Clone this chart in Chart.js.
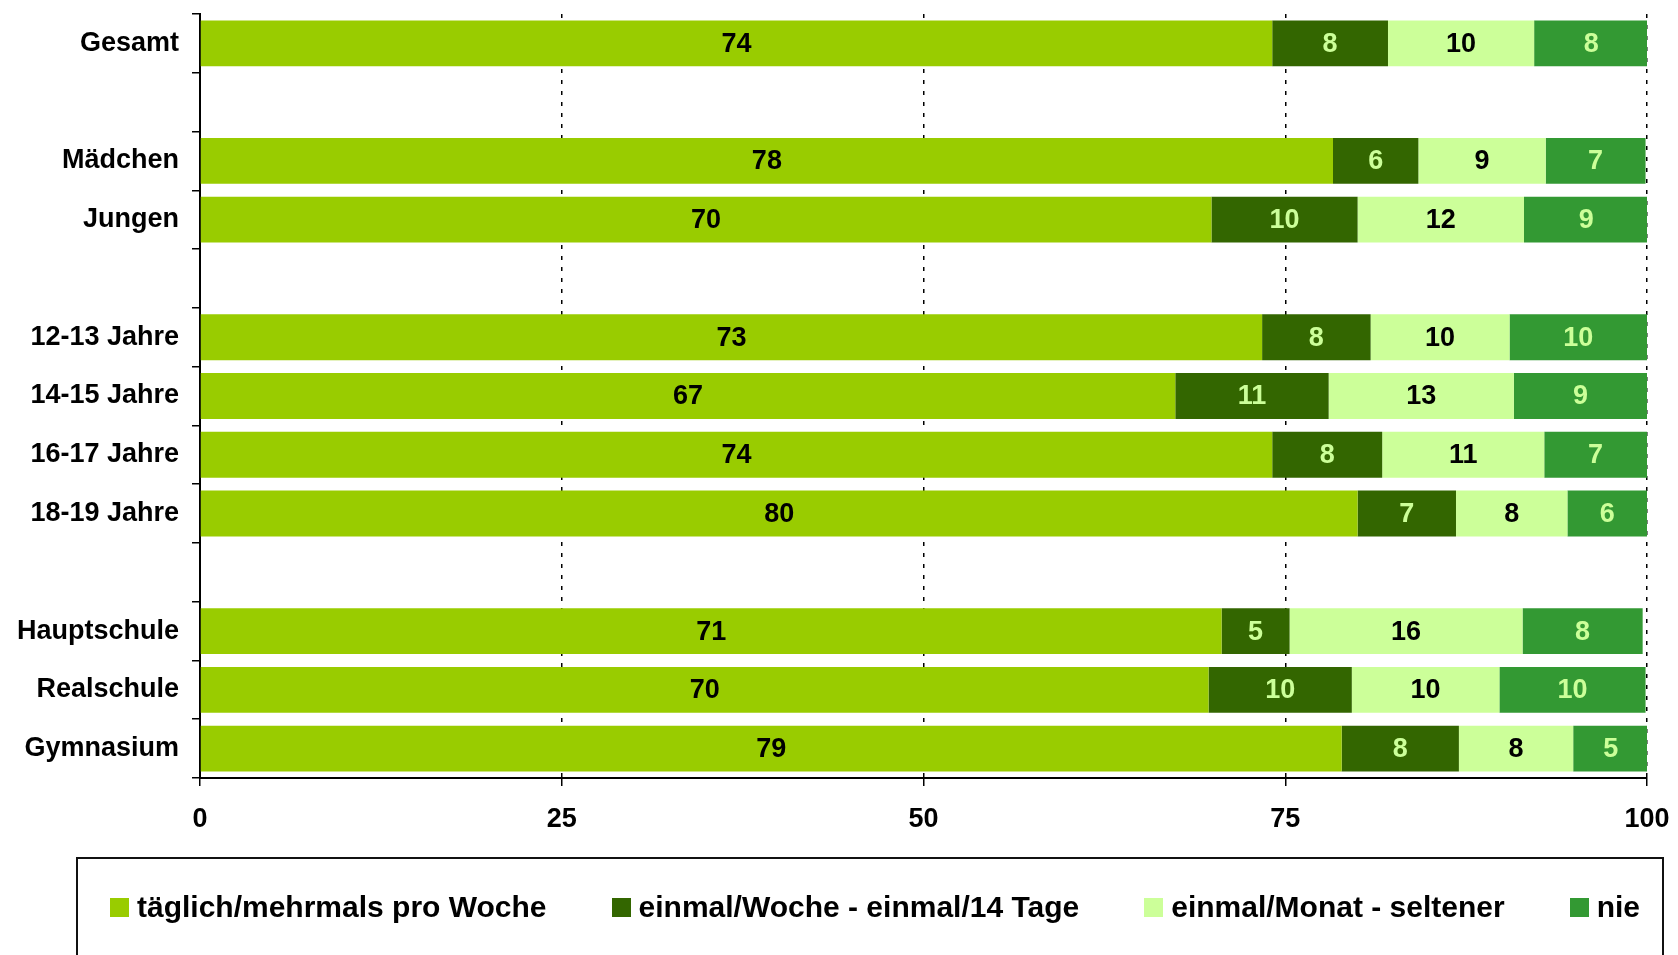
<!DOCTYPE html>
<html>
<head>
<meta charset="utf-8">
<script src="https://cdn.jsdelivr.net/npm/chart.js@4.4.1/dist/chart.umd.min.js"></script>
<style>
  html, body { margin: 0; padding: 0; background: #fff; overflow: hidden; }
  #wrap { position: relative; width: 1678px; height: 955px; }
  #chart { position: absolute; left: 0; top: 0; }
  #legend {
    position: absolute; left: 76px; top: 857px; width: 1588px; height: 140px;
    border: 2px solid #111; box-sizing: border-box;
    display: flex; justify-content: center; align-items: flex-start; gap: 65px;
    padding-top: 31px; padding-left: 10px;
    font: bold 30px "Liberation Sans", Arial, sans-serif; color: #000;
  }
  .item { display: flex; align-items: center; white-space: nowrap; }
  .item i { display: inline-block; width: 19px; height: 19px; margin-right: 8px; }
</style>
</head>
<body>
<div id="wrap">
  <canvas id="chart" width="1678" height="955"></canvas>
  <div id="legend"></div>
</div>
<script>
const categories = ['Gesamt', '', 'Mädchen', 'Jungen', '', '12-13 Jahre', '14-15 Jahre', '16-17 Jahre', '18-19 Jahre', '', 'Hauptschule', 'Realschule', 'Gymnasium'];
const seriesNames = ['täglich/mehrmals pro Woche', 'einmal/Woche - einmal/14 Tage', 'einmal/Monat - seltener', 'nie'];
const taeglich     = [74.1, null, 78.3, 69.9, null, 73.4, 67.4, 74.1, 80.0, null, 70.6, 69.7, 78.9];
const woechentlich = [8.0, null, 5.9, 10.1, null, 7.5, 10.6, 7.6, 6.8, null, 4.7, 9.9, 8.1];
const monatlich    = [10.1, null, 8.8, 11.5, null, 9.6, 12.8, 11.2, 7.7, null, 16.1, 10.2, 7.9];
const nie          = [7.9, null, 6.9, 8.6, null, 9.5, 9.2, 7.1, 5.5, null, 8.3, 10.1, 5.2];
const xTicks = [0, 25, 50, 75, 100];

const colors = ['#99cc00', '#336600', '#ccff99', '#339933'];
const labelColors = ['#000', '#ccff99', '#000', '#ccff99'];
const FONT = '"Liberation Sans", Arial, sans-serif';

// Zahlen mittig in die Segmente schreiben
const barLabels = {
  id: 'barLabels',
  afterDatasetsDraw(chart) {
    const ctx = chart.ctx;
    ctx.save();
    ctx.font = 'bold 27px ' + FONT;
    ctx.textAlign = 'center';
    ctx.textBaseline = 'middle';
    chart.data.datasets.forEach((ds, i) => {
      const meta = chart.getDatasetMeta(i);
      meta.data.forEach((bar, j) => {
        const v = ds.data[j];
        if (v == null) return;
        ctx.fillStyle = labelColors[i];
        ctx.fillText(Math.round(v), (bar.x + bar.base) / 2, bar.y + 1);
      });
    });
    ctx.restore();
  }
};

const datasets = [taeglich, woechentlich, monatlich, nie].map((d, i) => ({
  label: seriesNames[i],
  data: d,
  backgroundColor: colors[i],
  borderWidth: 0,
  barPercentage: 0.78,
  categoryPercentage: 1
}));

new Chart(document.getElementById('chart'), {
  type: 'bar',
  data: { labels: categories, datasets: datasets },
  options: {
    indexAxis: 'y',
    responsive: false,
    animation: false,
    layout: { padding: { top: 14, right: 31, bottom: 117, left: 0 } },
    plugins: { legend: { display: false }, tooltip: { enabled: false } },
    scales: {
      x: {
        stacked: true,
        min: 0, max: 100,
        afterBuildTicks: axis => { axis.ticks = xTicks.map(v => ({ value: v })); },
        afterFit: axis => { axis.height = 60; axis.paddingLeft = 0; axis.paddingRight = 0; },
        border: { display: true, color: '#000', width: 2, dash: [4, 7] },
        grid: {
          color: ctx => ctx.tick && ctx.tick.value === 0 ? 'rgba(0,0,0,0)' : '#000',
          lineWidth: 1.5,
          tickLength: 8,
          tickColor: '#000',
          tickWidth: 1.5,
          tickBorderDash: []
        },
        ticks: { color: '#000', font: { family: FONT, size: 27, weight: 'bold' }, padding: 17, maxRotation: 0 }
      },
      y: {
        stacked: true,
        afterFit: axis => { axis.width = 200; axis.paddingTop = 0; axis.paddingBottom = 0; },
        border: { display: true, color: '#000', width: 2 },
        grid: { offset: true, drawOnChartArea: false, tickLength: 8, color: '#000', lineWidth: 1.5 },
        ticks: { color: '#000', font: { family: FONT, size: 27, weight: 'bold' }, padding: 13, autoSkip: false }
      }
    }
  },
  plugins: [barLabels]
});

const legend = document.getElementById('legend');
legend.innerHTML = seriesNames.map((name, i) =>
  `<span class="item"><i style="background:${colors[i]}"></i>${name}</span>`).join('');
</script>
</body>
</html>
